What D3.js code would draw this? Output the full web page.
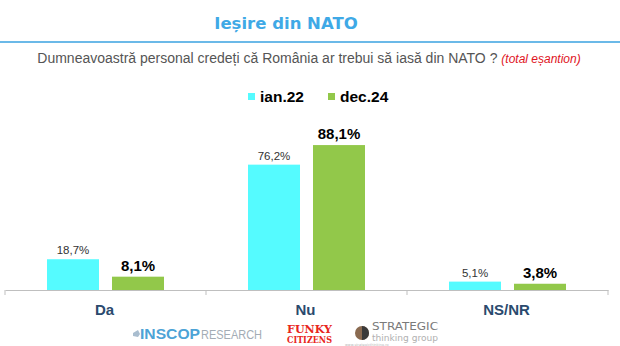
<!DOCTYPE html>
<html><head><meta charset="utf-8">
<script src="https://cdn.jsdelivr.net/npm/d3@7/dist/d3.min.js"></script>
<style>body{margin:0;background:#fff}svg{display:block}</style>
</head><body><svg id="c" width="620" height="346"></svg>
<script>
const categories = ["Da", "Nu", "NS/NR"];
const seriesNames = ["ian.22", "dec.24"];
const ian22 = [18.7, 76.2, 5.1];
const dec24 = [8.1, 88.1, 3.8];
const colors = ["#55FBFF", "#92C84A"];

const svg = d3.select("#c");
const W = 620, H = 346;
const base = 290, top0 = 125.5;

svg.append("text").attr("x", 286).attr("y", 29).attr("text-anchor", "middle")
  .attr("font-family", "DejaVu Sans").attr("font-weight", "bold").attr("font-size", 16.5)
  .attr("fill", "#3FA9E6").text("Ieșire din NATO");
svg.append("rect").attr("x", 0).attr("y", 41).attr("width", W).attr("height", 2).attr("fill", "#6BB9E8");

const sub = svg.append("text").attr("x", 309).attr("y", 63).attr("text-anchor", "middle")
  .attr("font-family", "Liberation Sans, Arial").attr("font-size", 14).attr("fill", "#555");
sub.append("tspan").text("Dumneavoastră personal credeți că România ar trebui să iasă din NATO ? ");
sub.append("tspan").attr("fill", "#E0141E").attr("font-style", "italic").attr("font-size", 12).text("(total eșantion)");

// legend
const lg = svg.append("g");
const lx = [248, 328];
seriesNames.forEach((s, i) => {
  lg.append("rect").attr("x", lx[i]).attr("y", 93).attr("width", 7).attr("height", 7).attr("fill", colors[i]);
  lg.append("text").attr("x", lx[i] + 12).attr("y", 101.5).attr("font-family", "Liberation Sans, Arial")
    .attr("font-weight", "bold").attr("font-size", 15.5).attr("fill", "#000").text(s);
});

const x0 = d3.scaleBand().domain(categories).range([5, 608]).padding(0);
const x1 = d3.scaleBand().domain(seriesNames).range([42, 159]).paddingInner(0.2);
const y = d3.scaleLinear().domain([0, 100]).range([base, top0]);

const data = categories.map((c, i) => ({c, vals: [ian22[i], dec24[i]]}));

const g = svg.append("g");
data.forEach(d => {
  d.vals.forEach((v, j) => {
    const bx = x0(d.c) + x1(seriesNames[j]);
    g.append("rect").attr("x", bx).attr("y", y(v)).attr("width", x1.bandwidth())
      .attr("height", base - y(v)).attr("fill", colors[j]);
    const lbl = d3.format(".1f")(v).replace(".", ",") + "%";
    g.append("text").attr("x", bx + x1.bandwidth() / 2).attr("y", y(v) - (j ? 6 : 5))
      .attr("text-anchor", "middle").attr("font-family", "Liberation Sans, Arial")
      .attr("font-weight", j ? "bold" : "normal").attr("font-size", j ? 15 : 11.5)
      .attr("fill", j ? "#000" : "#333").text(lbl);
  });
});

// axis
const ax = svg.append("g").attr("transform", `translate(0,${base})`)
  .call(d3.axisBottom(x0).tickSize(0).tickFormat(""));
ax.select(".domain").attr("stroke", "#BFBFBF").attr("stroke-width", 1);
ax.selectAll(".tick").remove();
const bounds = [x0.range()[0], ...categories.slice(1).map(c => x0(c)), x0.range()[1]];
bounds.forEach(b => ax.append("line").attr("x1", b).attr("x2", b).attr("y1", 0).attr("y2", 5).attr("stroke", "#BFBFBF"));
categories.forEach(c => {
  ax.append("text").attr("x", x0(c) + x0.bandwidth() / 2 - 1).attr("y", 25).attr("text-anchor", "middle")
    .attr("font-family", "Liberation Sans, Arial").attr("font-weight", "bold").attr("font-size", 15)
    .attr("fill", "#2A4A6E").text(c);
});

// logos as text
const lo = svg.append("g");
lo.append("path").attr("d", "M133,333 l5,-3 l2,4 l-2,3 l-5,-1 z").attr("fill", "#A9BDCF");
lo.append("text").attr("x", 140).attr("y", 339).attr("font-family", "Liberation Sans, Arial")
  .attr("font-weight", "bold").attr("font-size", 14).attr("fill", "#4DA3D6")
  .attr("textLength", 60).attr("lengthAdjust", "spacingAndGlyphs").text("INSCOP");
lo.append("text").attr("x", 201).attr("y", 339).attr("font-family", "Liberation Sans, Arial")
  .attr("font-size", 12.5).attr("fill", "#A3ACB5")
  .attr("textLength", 61).attr("lengthAdjust", "spacingAndGlyphs").text("RESEARCH");
lo.append("text").attr("x", 287).attr("y", 333).attr("font-family", "DejaVu Serif")
  .attr("font-weight", "bold").attr("font-size", 11.5).attr("fill", "#E8261C")
  .attr("textLength", 45).attr("lengthAdjust", "spacingAndGlyphs").text("FUNKY");
lo.append("text").attr("x", 287).attr("y", 343).attr("font-family", "DejaVu Serif")
  .attr("font-weight", "bold").attr("font-size", 9).attr("fill", "#E8261C")
  .attr("textLength", 45).attr("lengthAdjust", "spacingAndGlyphs").text("CITIZENS");
lo.append("circle").attr("cx", 362).attr("cy", 333).attr("r", 7).attr("fill", "#8A6A50");
lo.append("path").attr("d", "M362,326 a7,7 0 0,1 0,14 z").attr("fill", "#3A3A3A");
lo.append("text").attr("x", 372).attr("y", 330).attr("font-family", "DejaVu Sans").attr("font-size", 11)
  .attr("fill", "#7A7A7A").attr("textLength", 66).attr("lengthAdjust", "spacingAndGlyphs").text("STRATEGIC");
lo.append("text").attr("x", 372).attr("y", 340.5).attr("font-family", "DejaVu Sans").attr("font-size", 8)
  .attr("fill", "#B0B0B0").attr("textLength", 66).attr("lengthAdjust", "spacingAndGlyphs").text("thinking group");
lo.append("text").attr("x", 345).attr("y", 345.5).attr("font-family", "DejaVu Sans").attr("font-size", 3.5)
  .attr("fill", "#B8B8B8").text("www.strategicthinking.ro");
</script></body></html>
